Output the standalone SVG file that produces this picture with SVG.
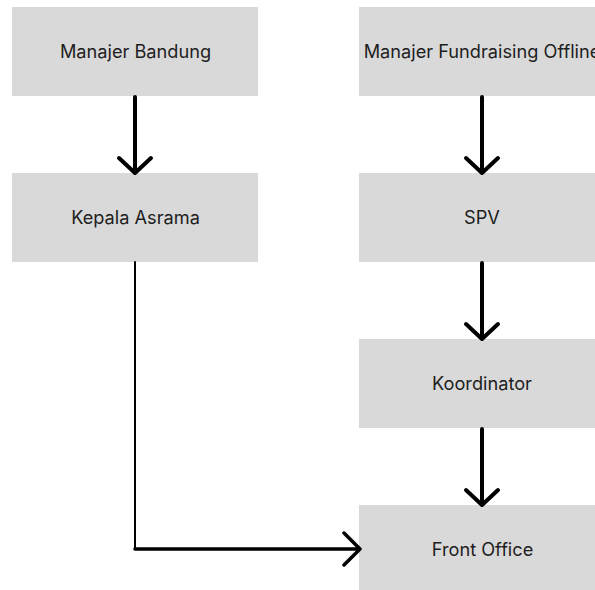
<svg xmlns="http://www.w3.org/2000/svg" width="595" height="590" viewBox="0 0 595 590">
  <style>
    .box { fill: #d9d9d9; }
    .lbl { font-family: Inter, "Liberation Sans", sans-serif; font-size: 18.2px; fill: #1e1e1e; text-anchor: middle; }
    .conn { fill: none; stroke: #000; stroke-linecap: round; stroke-linejoin: round; }
  </style>
  <rect width="595" height="590" fill="#ffffff"/>
  <g id="manajer-bandung">
    <rect class="box" x="12" y="7" width="246" height="89"/>
    <text class="lbl" x="135.5" y="58">Manajer Bandung</text>
  </g>
  <g id="kepala-asrama">
    <rect class="box" x="12" y="173" width="246" height="89"/>
    <text class="lbl" x="135.5" y="224">Kepala Asrama</text>
  </g>
  <g id="manajer-fundraising">
    <rect class="box" x="359" y="7" width="246" height="89"/>
    <text class="lbl" x="482" y="58">Manajer Fundraising Offline</text>
  </g>
  <g id="spv">
    <rect class="box" x="359" y="173" width="246" height="89"/>
    <text class="lbl" x="482" y="224">SPV</text>
  </g>
  <g id="koordinator">
    <rect class="box" x="359" y="339" width="246" height="89"/>
    <text class="lbl" x="482" y="390">Koordinator</text>
  </g>
  <g id="front-office">
    <rect class="box" x="359" y="505" width="246" height="89"/>
    <text class="lbl" x="482.5" y="556">Front Office</text>
  </g>
  <g id="connectors">
    <path class="conn" stroke-width="4" d="M135 97 V172 M119 158 L135 173 L151 158"/>
    <path class="conn" stroke-width="4" d="M482 97 V172 M466 158 L482 173 L498 158"/>
    <path class="conn" stroke-width="4" d="M482 263 V338 M466 324 L482 339 L498 324"/>
    <path class="conn" stroke-width="4" d="M482 429 V504 M466 490 L482 505 L498 490"/>
    <path class="conn" stroke-width="2" stroke-linecap="butt" d="M135 262 V549"/>
    <path class="conn" stroke-width="3.5" d="M135 549 H360 M344 533 L360 549 L344 565"/>
  </g>
</svg>
